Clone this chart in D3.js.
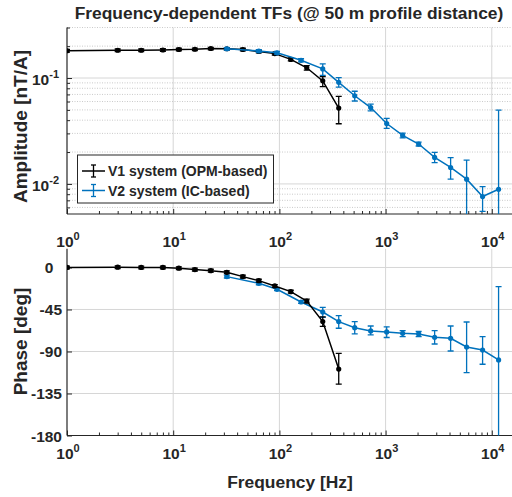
<!DOCTYPE html>
<html>
<head>
<meta charset="utf-8">
<script src="https://cdn.jsdelivr.net/npm/d3@7"></script>
<style>
  body { margin: 0; background: #fff; }
  text { font-family: "Liberation Sans", Arial, sans-serif; font-weight: bold; fill: #262626; }
</style>
</head>
<body>
<svg id="chart" width="512" height="497"></svg>
<script>
// V1 system (OPM-based)
const v1Freq  = [1, 3, 5, 8, 11.3, 16, 22.6, 32, 45.3, 64, 90.5, 128, 181, 256, 362];
const v1Amp   = [0.181, 0.183, 0.183, 0.184, 0.186, 0.187, 0.190, 0.189, 0.186, 0.178, 0.170, 0.150, 0.125, 0.094, 0.052];
const v1AmpLo = [0.176, 0.178, 0.178, 0.179, 0.181, 0.182, 0.185, 0.184, 0.181, 0.173, 0.165, 0.145, 0.119, 0.083, 0.037];
const v1AmpHi = [0.186, 0.188, 0.188, 0.189, 0.191, 0.192, 0.195, 0.194, 0.191, 0.183, 0.175, 0.155, 0.131, 0.103, 0.067];
const v1Ph    = [0, 0.3, 0, 0, -0.8, -2.3, -3.4, -5.2, -9.8, -14.1, -19.8, -25.9, -36, -58, -108.8];
const v1PhLo  = [-1.5, -1.2, -1.5, -1.5, -2.3, -3.8, -4.9, -6.7, -11.3, -15.6, -21.3, -27.4, -38, -63, -125];
const v1PhHi  = [1.5, 1.8, 1.5, 1.5, 0.7, -0.8, -1.9, -3.7, -8.3, -12.6, -18.3, -24.4, -34, -53, -92];

// V2 system (IC-based)
const v2Freq  = [32, 64, 95, 160, 256, 362, 512, 724, 1024, 1448, 2048, 2896, 4096, 5793, 8192, 11585];
const v2Amp   = [0.189, 0.180, 0.173, 0.147, 0.122, 0.091, 0.068, 0.0526, 0.0372, 0.0287, 0.0238, 0.0178, 0.0143, 0.0111, 0.0076, 0.0089];
const v2AmpLo = [0.184, 0.175, 0.168, 0.142, 0.106, 0.082, 0.0607, 0.0489, 0.0334, 0.0272, 0.0228, 0.0159, 0.0111, 0.001, 0.0055, 0.001];
const v2AmpHi = [0.194, 0.185, 0.178, 0.152, 0.136, 0.101, 0.075, 0.0566, 0.0415, 0.0302, 0.0248, 0.0199, 0.0177, 0.0168, 0.00944, 0.0497];
const v2Ph    = [-9.8, -17, -23.4, -37, -47.7, -58, -64.5, -68, -69, -70.5, -71.2, -74.8, -75.9, -85.2, -88.4, -99];
const v2PhLo  = [-11.3, -18.5, -24.9, -38.5, -53.4, -65.1, -71.2, -72.3, -75, -74, -74, -82, -89.5, -112.7, -103.7, -200];
const v2PhHi  = [-8.3, -15.5, -21.9, -35.5, -42.7, -51.6, -58, -62.7, -63.6, -67.7, -68.6, -67.7, -62.7, -58.4, -74.1, -20.5];

// axis ticks
const decades = [1, 10, 100, 1000, 10000];
const decadeExp = ["0", "1", "2", "3", "4"];
const ampMajor = [0.01, 0.1];
const ampExp = ["-2", "-1"];
const ampMinor = [0.006, 0.007, 0.008, 0.009, 0.02, 0.03, 0.04, 0.05, 0.06, 0.07, 0.08, 0.09, 0.2, 0.3];
const phTicks = [0, -45, -90, -135, -180];
const phLabels = ["0\u00a0\u00a0", "-45", "-90", "-135", "-180"];

const blue = "#0072BD", black = "#000000", axisCol = "#262626";

const svg = d3.select("#chart");

const x = d3.scaleLog().domain([1, 15500]).range([67, 512]);
const yAmp = d3.scaleLog().domain([0.0052, 0.3]).range([214, 27.5]);
const yPh = d3.scaleLinear().domain([-180, 20]).range([435.5, 248.8]);

const xMinor = [];
decades.forEach(d => { for (let k = 2; k <= 9; k++) if (d * k < 15500) xMinor.push(d * k); });

const panels = [
  { id: "amp", y: yAmp, top: yAmp.range()[1], bottom: yAmp.range()[0] },
  { id: "ph", y: yPh, top: yPh.range()[1], bottom: yPh.range()[0] }
];

panels.forEach(p => {
  svg.append("clipPath").attr("id", "clip-" + p.id)
    .append("rect").attr("x", x.range()[0]).attr("y", p.top)
    .attr("width", x.range()[1] - x.range()[0] + 5).attr("height", p.bottom - p.top);

  // vertical grid
  svg.append("g").selectAll("line").data(decades.slice(1)).join("line")
    .attr("x1", d => x(d)).attr("x2", d => x(d))
    .attr("y1", p.top).attr("y2", p.bottom)
    .attr("stroke", "#d6d6d6").attr("stroke-width", 1);
});

// horizontal grid, amplitude
svg.append("g").selectAll("line").data(ampMinor).join("line")
  .attr("x1", x.range()[0]).attr("x2", x.range()[1])
  .attr("y1", d => yAmp(d)).attr("y2", d => yAmp(d))
  .attr("stroke", "#bdbdbd").attr("stroke-width", 0.8).attr("stroke-dasharray", "1,1.5");
svg.append("g").selectAll("line").data(ampMajor).join("line")
  .attr("x1", x.range()[0]).attr("x2", x.range()[1])
  .attr("y1", d => yAmp(d)).attr("y2", d => yAmp(d))
  .attr("stroke", "#d6d6d6").attr("stroke-width", 1);
// horizontal grid, phase
svg.append("g").selectAll("line").data(phTicks.slice(0, 4)).join("line")
  .attr("x1", x.range()[0]).attr("x2", x.range()[1])
  .attr("y1", d => yPh(d)).attr("y2", d => yPh(d))
  .attr("stroke", "#d6d6d6").attr("stroke-width", 1);

// axes: inward ticks
panels.forEach(p => {
  const gx = svg.append("g").attr("transform", `translate(0,${p.bottom})`)
    .call(d3.axisBottom(x).tickValues(decades).tickSize(-5).tickFormat(""));
  gx.select(".domain").remove();
  const gxm = svg.append("g").attr("transform", `translate(0,${p.bottom})`)
    .call(d3.axisBottom(x).tickValues(xMinor).tickSize(-3).tickFormat(""));
  gxm.select(".domain").remove();

  svg.append("line").attr("x1", x.range()[0]).attr("x2", x.range()[1])
    .attr("y1", p.bottom).attr("y2", p.bottom).attr("stroke", axisCol).attr("stroke-width", 1.2);
  svg.append("line").attr("x1", x.range()[0]).attr("x2", x.range()[0])
    .attr("y1", p.top).attr("y2", p.bottom).attr("stroke", axisCol).attr("stroke-width", 1.2);
});

const gy1 = svg.append("g").attr("transform", `translate(${x.range()[0]},0)`)
  .call(d3.axisLeft(yAmp).tickValues(ampMajor).tickSize(-5).tickFormat(""));
gy1.select(".domain").remove();
const gy1m = svg.append("g").attr("transform", `translate(${x.range()[0]},0)`)
  .call(d3.axisLeft(yAmp).tickValues(ampMinor).tickSize(-3).tickFormat(""));
gy1m.select(".domain").remove();
const gy2 = svg.append("g").attr("transform", `translate(${x.range()[0]},0)`)
  .call(d3.axisLeft(yPh).tickValues(phTicks).tickSize(-5).tickFormat(""));
gy2.select(".domain").remove();
svg.selectAll(".tick line").attr("stroke", axisCol);

// tick labels
function powLabel(g, px, py, exp, anchor) {
  const t = g.append("text").attr("x", px).attr("y", py).attr("text-anchor", anchor)
    .style("font-size", "15.5px");
  t.append("tspan").text("10");
  t.append("tspan").attr("dy", -7).style("font-size", "11px").text(exp);
}
const labels = svg.append("g");
decades.forEach((d, i) => {
  powLabel(labels, x(d) + 1, yAmp.range()[0] + 32.5, decadeExp[i], "middle");
  powLabel(labels, x(d) + 1, yPh.range()[0] + 23.5, decadeExp[i], "middle");
});
ampMajor.forEach((d, i) => powLabel(labels, x.range()[0] - 8, yAmp(d) + 7, ampExp[i], "end"));
phTicks.forEach((d, i) => {
  labels.append("text").attr("x", x.range()[0] - 5).attr("y", yPh(d) + 6)
    .attr("text-anchor", "end").style("font-size", "15.5px").text(phLabels[i]);
});

// series
function drawSeries(freq, vals, lo, hi, yScale, color, clipId) {
  const g = svg.append("g").attr("clip-path", `url(#${clipId})`);
  const pts = freq.map((f, i) => ({ f, v: vals[i], lo: lo[i], hi: hi[i] }));
  g.append("path").datum(pts)
    .attr("fill", "none").attr("stroke", color).attr("stroke-width", 1.5)
    .attr("d", d3.line().x(d => x(d.f)).y(d => yScale(d.v)));
  const eb = g.selectAll("g.eb").data(pts).join("g").attr("class", "eb")
    .attr("stroke", color).attr("stroke-width", 1.3);
  eb.append("line").attr("x1", d => x(d.f)).attr("x2", d => x(d.f))
    .attr("y1", d => yScale(d.lo)).attr("y2", d => yScale(d.hi));
  eb.append("line").attr("x1", d => x(d.f) - 3).attr("x2", d => x(d.f) + 3)
    .attr("y1", d => yScale(d.lo)).attr("y2", d => yScale(d.lo));
  eb.append("line").attr("x1", d => x(d.f) - 3).attr("x2", d => x(d.f) + 3)
    .attr("y1", d => yScale(d.hi)).attr("y2", d => yScale(d.hi));
  g.selectAll("circle").data(pts).join("circle")
    .attr("cx", d => x(d.f)).attr("cy", d => yScale(d.v)).attr("r", 2.6)
    .attr("fill", color);
}

drawSeries(v1Freq, v1Amp, v1AmpLo, v1AmpHi, yAmp, black, "clip-amp");
drawSeries(v2Freq, v2Amp, v2AmpLo, v2AmpHi, yAmp, blue, "clip-amp");
drawSeries(v2Freq, v2Ph, v2PhLo, v2PhHi, yPh, blue, "clip-ph");
drawSeries(v1Freq, v1Ph, v1PhLo, v1PhHi, yPh, black, "clip-ph");

// legend
const legend = svg.append("g");
legend.append("rect").attr("x", 77.5).attr("y", 155).attr("width", 196).attr("height", 48)
  .attr("fill", "#fff").attr("stroke", axisCol).attr("stroke-width", 1);
const legendItems = [
  { name: "V1 system (OPM-based)", color: black },
  { name: "V2 system (IC-based)", color: blue }
];
legendItems.forEach((it, i) => {
  const ly = 171 + i * 19.5;
  legend.append("line").attr("x1", 82).attr("x2", 105).attr("y1", ly).attr("y2", ly)
    .attr("stroke", it.color).attr("stroke-width", 1.5);
  legend.append("line").attr("x1", 93.5).attr("x2", 93.5).attr("y1", ly - 6).attr("y2", ly + 6)
    .attr("stroke", it.color).attr("stroke-width", 1.3);
  [-6, 6].forEach(o => legend.append("line").attr("x1", 91).attr("x2", 96)
    .attr("y1", ly + o).attr("y2", ly + o).attr("stroke", it.color).attr("stroke-width", 1.3));
  legend.append("text").attr("x", 108).attr("y", ly + 5).style("font-size", "14px").text(it.name);
});

// titles
svg.append("text").attr("x", 289).attr("y", 19).attr("text-anchor", "middle")
  .style("font-size", "17.4px").text("Frequency-dependent TFs (@ 50 m profile distance)");
svg.append("text").attr("x", 290).attr("y", 488).attr("text-anchor", "middle")
  .style("font-size", "17.4px").text("Frequency [Hz]");
svg.append("text").attr("transform", "translate(27,126.5) rotate(-90)").attr("text-anchor", "middle")
  .style("font-size", "19px").text("Amplitude [nT/A]");
svg.append("text").attr("transform", "translate(27,341.5) rotate(-90)").attr("text-anchor", "middle")
  .style("font-size", "19px").text("Phase [deg]");
</script>
</body>
</html>
